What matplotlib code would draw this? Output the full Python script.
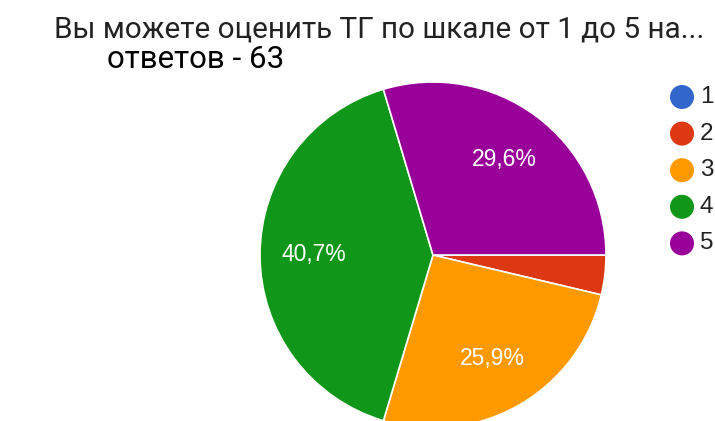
import matplotlib
matplotlib.use('Agg')
import matplotlib.pyplot as plt

# survey answers: score -> share of respondents
labels = ['1', '2', '3', '4', '5']
counts = [0, 1, 7, 11, 8]
colors = ['#3366cc', '#dc3912', '#ff9900', '#109618', '#990099']

title = 'Вы можете оценить ТГ по шкале от 1 до 5 на...'
subtitle = 'ответов - 63'

W, H = 715, 421
fig = plt.figure(figsize=(W / 100, H / 100), dpi=100)
fig.patch.set_facecolor('white')

# pie centre (433, 255) px from top-left, radius 173 px
cx, cy, r = 433, 255, 173
ax = fig.add_axes([(cx - r) / W, (H - cy - r) / H, 2 * r / W, 2 * r / H])


def pct(p):
    if p < 5:
        return ''
    return f'{p:.1f}%'.replace('.', ',')


wedges, texts, autotexts = ax.pie(
    counts, colors=colors, startangle=0, counterclock=False,
    autopct=pct, pctdistance=0.69,
    wedgeprops=dict(edgecolor='white', linewidth=1.2),
    textprops=dict(color='white', fontsize=16.5, family='Liberation Sans'))
ax.set_xlim(-1, 1)
ax.set_ylim(-1, 1)
ax.set_aspect('equal')

fig.text(54 / W, 1 - 37 / H, title, fontsize=21.3, family='Roboto',
         color='#222222', va='baseline', ha='left')
fig.text(107 / W, 1 - 68 / H, subtitle, fontsize=22.5, family='Roboto',
         color='black', va='baseline', ha='left')

# legend on a full-figure overlay in pixel units
lg = fig.add_axes([0, 0, 1, 1])
lg.set_xlim(0, W)
lg.set_ylim(H, 0)
lg.axis('off')
for i, (lab, col) in enumerate(zip(labels, colors)):
    y = 97 + 36.6 * i
    lg.scatter([682], [y], s=24 ** 2 * 0.52, color=col, edgecolors='none')
    lg.text(700, y, lab, fontsize=17.5, family='Liberation Sans',
            color='#222222', va='center', ha='left')

fig.savefig('out.png', dpi=100)
